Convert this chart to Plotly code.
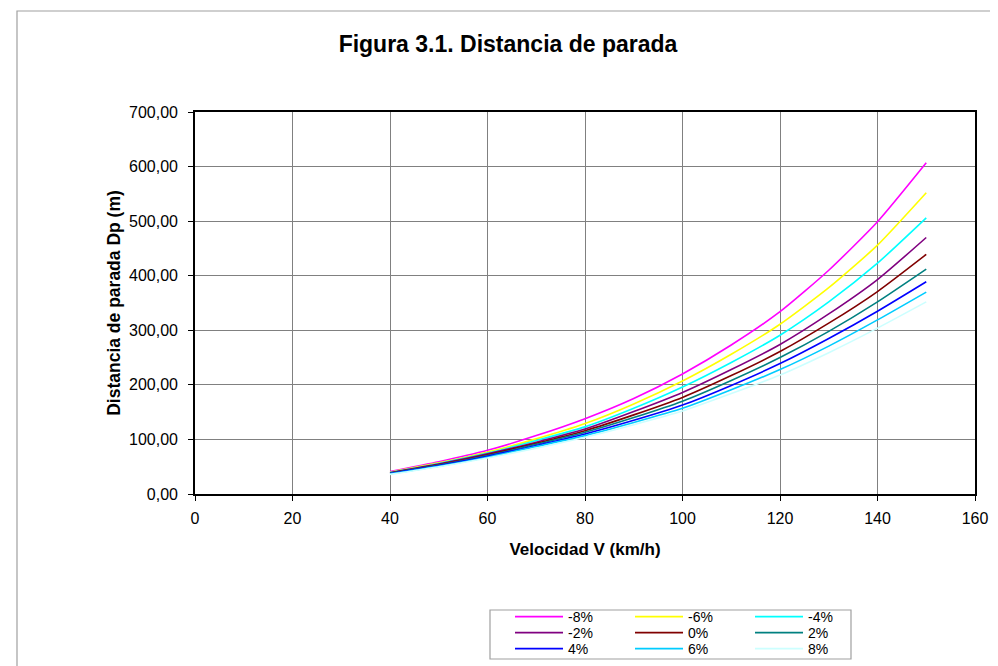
import plotly.graph_objects as go

velocidad = [40, 50, 60, 70, 80, 90, 100, 110, 120, 130, 140, 150]
pendientes = ["-8%", "-6%", "-4%", "-2%", "0%", "2%", "4%", "6%", "8%"]
dp_m8 = [41, 59, 80, 107, 138, 175, 220, 273, 334, 410, 499, 607]
dp_m6 = [40, 57, 77, 101, 129, 165, 207, 256, 311, 378, 456, 552]
dp_m4 = [39.5, 56, 75, 98, 123, 157, 196, 241, 291, 352, 423, 506]
dp_m2 = [39, 55, 73.5, 95, 119, 151, 186, 228, 274, 330, 393, 470]
dp_0 = [38.5, 54, 72, 93, 116, 145, 177, 217, 261, 313, 371, 439]
dp_p2 = [38, 53, 70.5, 91, 113, 140, 170, 208, 250, 298, 352, 412]
dp_p4 = [37.5, 52, 69, 89, 110, 135, 163, 199, 239, 285, 335, 389]
dp_p6 = [37, 51, 67.5, 87, 107, 131, 157, 191, 228, 271, 319, 370]
dp_p8 = [36, 50, 66, 84, 104, 127, 152, 184, 218, 259, 304, 352]
series = [dp_m8, dp_m6, dp_m4, dp_m2, dp_0, dp_p2, dp_p4, dp_p6, dp_p8]
colores = ["#FF00FF", "#FFFF00", "#00FFFF", "#800080", "#800000",
           "#008080", "#0000FF", "#00CCFF", "#CCFFFF"]

FONT = "Liberation Sans, Arial, sans-serif"

# page offset (body margin) between figure coords and screen coords
OFF = 8
W, H = 998, 666
L, T = 195 - OFF, 112 - OFF
Rx, By = 975 - OFF, 494 - OFF
pw, ph = Rx - L, By - T

def px_x(p):
    return (p - OFF - L) / pw

def px_y(p):
    return (By - (p - OFF)) / ph

# legend grid (screen px of line start per column, row centres)
col_x = [515, 635, 755]
row_y = [617, 633, 649]

fig = go.Figure()
leg_layout = {}
for i, (name, vals, col) in enumerate(zip(pendientes, series, colores)):
    lname = "legend" if i == 0 else f"legend{i + 1}"
    fig.add_trace(go.Scatter(
        x=velocidad, y=vals, name=name, mode="lines",
        line=dict(color=col, width=1.6, shape="spline", smoothing=0.6),
        legend=lname, showlegend=True,
    ))
    r, c = divmod(i, 3)
    leg_layout[lname] = dict(
        orientation="v", xref="container", yref="container",
        xanchor="left", yanchor="top", bgcolor="rgba(0,0,0,0)",
        borderwidth=0, itemwidth=48, visible=True,
        font=dict(family=FONT, size=14, color="#000000"),
        x=(col_x[c] - OFF - 5) / W,
        y=1 - (row_y[r] - OFF - 16) / H,
    )

fig.update_layout(
    width=W, height=H,
    showlegend=True,
    margin=dict(l=L, r=W - Rx, t=T, b=H - By, autoexpand=False),
    paper_bgcolor="white", plot_bgcolor="white",
    separators=",.",
    font=dict(family=FONT, size=16, color="#000000"),
    title=dict(
        text="<b>Figura 3.1. Distancia de parada</b>",
        font=dict(family=FONT, size=23, color="#000000"),
        x=(508 - OFF) / W, xref="container", xanchor="center",
        y=1 - (44 - OFF) / H, yref="container", yanchor="middle",
    ),
    xaxis=dict(
        range=[0, 160], dtick=20, tick0=0,
        showgrid=True, gridcolor="#808080", gridwidth=1,
        showline=True, linecolor="#000000", linewidth=1.6, mirror=True,
        ticks="outside", ticklen=5, tickcolor="#000000",
        ticklabelstandoff=4,
        tickfont=dict(family=FONT, size=16),
        zeroline=False,
        title=dict(text="<b>Velocidad V (km/h)</b>",
                   font=dict(family=FONT, size=17), standoff=17),
    ),
    yaxis=dict(
        range=[0, 700], dtick=100, tick0=0, tickformat=".2f",
        showgrid=True, gridcolor="#808080", gridwidth=1,
        showline=True, linecolor="#000000", linewidth=1.6, mirror=True,
        ticks="outside", ticklen=5, tickcolor="#000000",
        ticklabelstandoff=7,
        tickfont=dict(family=FONT, size=16),
        zeroline=False,
        title=dict(text="<b>Distancia de parada Dp (m)</b>",
                   font=dict(family=FONT, size=17.5), standoff=4),
    ),
    shapes=[
        dict(type="rect", xref="paper", yref="paper",
             x0=px_x(17), x1=px_x(1100), y0=px_y(800), y1=px_y(11),
             line=dict(color="#A0A0A0", width=1.2), fillcolor="rgba(0,0,0,0)",
             layer="below"),
        dict(type="rect", xref="paper", yref="paper",
             x0=px_x(490), x1=px_x(851), y0=px_y(659), y1=px_y(610),
             line=dict(color="#A0A0A0", width=1.2), fillcolor="rgba(0,0,0,0)"),
    ],
    **leg_layout,
)

fig.write_html("out.html")
